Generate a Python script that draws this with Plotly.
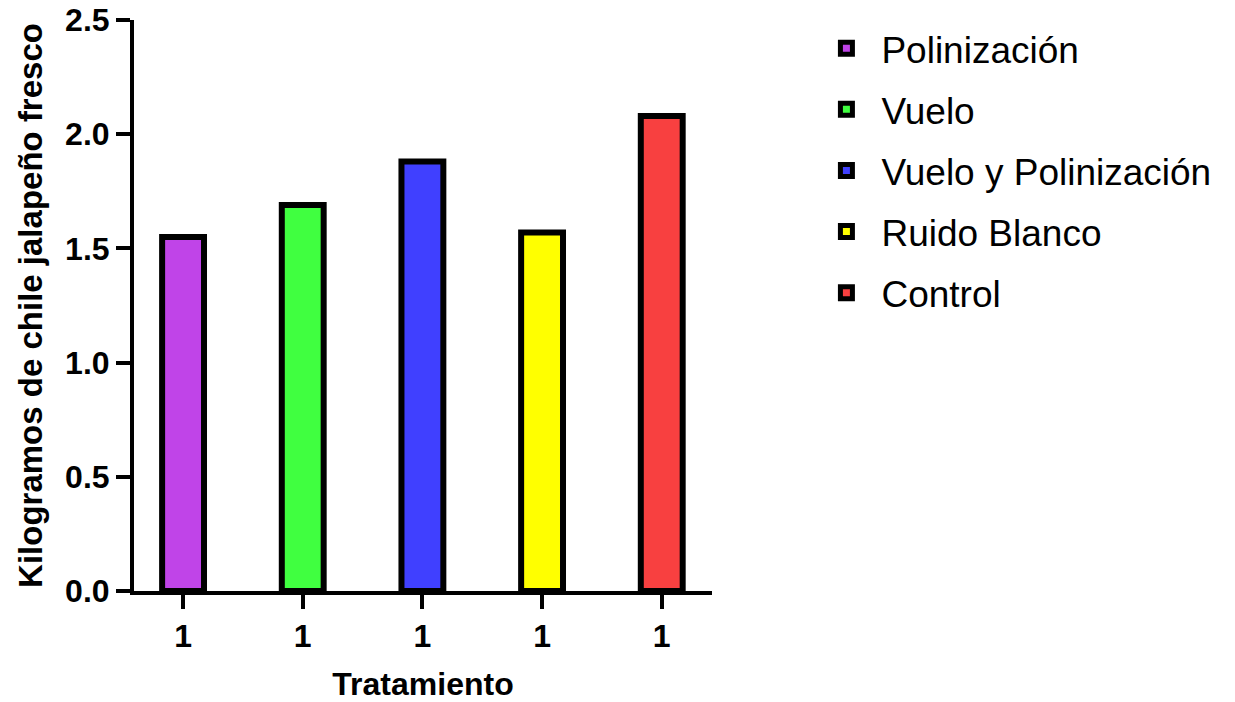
import plotly.graph_objects as go

tratamientos = ["Polinización", "Vuelo", "Vuelo y Polinización", "Ruido Blanco", "Control"]
kilogramos = [1.55, 1.69, 1.88, 1.57, 2.08]
colores = ["#C044E8", "#40FF40", "#4040FF", "#FFFF00", "#F84040"]
tick_labels = ["1", "1", "1", "1", "1"]
positions = [0, 1, 2, 3, 4]

FONT = "Liberation Sans, Arial, sans-serif"

fig = go.Figure()
for pos, name, val, col in zip(positions, tratamientos, kilogramos, colores):
    fig.add_trace(go.Bar(
        x=[pos], y=[val], name=name, width=0.35,
        marker=dict(color=col, line=dict(color="black", width=6)),
        legendgroup=name,
    ))

fig.update_layout(
    width=1227, height=694,
    margin=dict(l=126, r=523, t=12, b=111, autoexpand=False),
    plot_bgcolor="white", paper_bgcolor="white",
    barmode="overlay",
    font=dict(family=FONT, color="black"),
    showlegend=True,
    legend=dict(
        x=1.172, y=1.004, xanchor="left", yanchor="top",
        font=dict(size=37, family=FONT, color="black"),
        tracegroupgap=10, itemwidth=60,
    ),
    xaxis=dict(
        range=[-0.41, 4.42], automargin=False,
        tickvals=positions, ticktext=tick_labels,
        ticks="outside", ticklen=14, tickwidth=4, tickcolor="black",
        showline=True, linewidth=4, linecolor="black",
        showgrid=False, zeroline=False,
        tickfont=dict(size=32, family=FONT, weight="bold"),
        title=dict(text="Tratamiento", font=dict(size=32, family=FONT, weight="bold"), standoff=23),
    ),
    yaxis=dict(
        range=[0, 2.5], automargin=False,
        tickvals=[0, 0.5, 1.0, 1.5, 2.0, 2.5], tickformat=".1f",
        ticklabeloverflow="allow",
        ticks="outside", ticklen=14, tickwidth=4, tickcolor="black",
        showline=True, linewidth=4, linecolor="black",
        showgrid=False, zeroline=False,
        tickfont=dict(size=32, family=FONT, weight="bold"),
        title=dict(text="Kilogramos de chile jalapeño fresco", font=dict(size=33, family=FONT, weight="bold"), standoff=14),
    ),
)

fig.write_html("out.html")
